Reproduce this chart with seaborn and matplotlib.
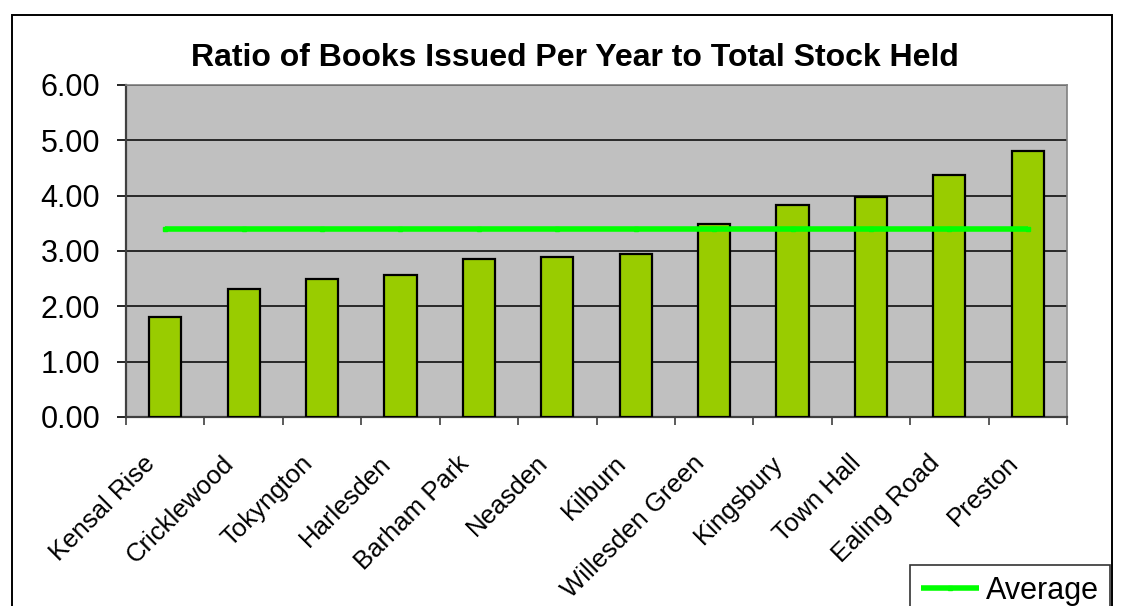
import numpy as np
import pandas as pd
import matplotlib
matplotlib.use("Agg")
import matplotlib.pyplot as plt
from matplotlib.patches import Rectangle
from matplotlib.transforms import ScaledTranslation
import seaborn as sns

# Branch libraries and their issue-to-stock ratios
branches = ["Kensal Rise", "Cricklewood", "Tokyngton", "Harlesden", "Barham Park",
            "Neasden", "Kilburn", "Willesden Green", "Kingsbury", "Town Hall",
            "Ealing Road", "Preston"]
ratios = [1.80, 2.31, 2.49, 2.56, 2.86, 2.89, 2.95, 3.49, 3.83, 3.97, 4.37, 4.80]
average_ratio = 3.40
y_ticks = [0.0, 1.0, 2.0, 3.0, 4.0, 5.0, 6.0]

df = pd.DataFrame({"branch": branches, "ratio": ratios})

sns.set_theme(style="white")
plt.rcParams["font.family"] = ["Liberation Sans", "DejaVu Sans"]
for key in ["text.color", "axes.labelcolor", "xtick.color", "ytick.color"]:
    plt.rcParams[key] = "black"

W, H = 1124, 606
fig = plt.figure(figsize=(W / 100, H / 100), dpi=100)
ax = fig.add_axes([126 / W, 1 - 417 / H, (1067 - 126) / W, (417 - 85) / H])
ax.set_facecolor("#C0C0C0")

sns.barplot(data=df, x="branch", y="ratio", color="#99CC00", width=0.41,
            edgecolor="black", linewidth=1.6, saturation=1, ax=ax, zorder=3)

# Average line across the categories
xs = np.arange(len(branches))
ax.plot(xs, [average_ratio] * len(branches), color="#00FF00", linewidth=4,
        marker="s", markersize=3, solid_capstyle="butt", zorder=4, label="Average")

ax.set_xlim(-0.5, len(branches) - 0.5)
ax.set_ylim(0, 6)
ax.set_yticks(y_ticks)
ax.set_yticklabels([f"{v:.2f}" for v in y_ticks], fontsize=22)
ax.yaxis.grid(True, color="black", linewidth=1.1, zorder=0)
ax.set_axisbelow(True)
ax.set_xlabel("")
ax.set_ylabel("")

# Category boundary ticks on x, outward ticks on y
ax.set_xticks(np.arange(-0.5, len(branches), 1.0))
ax.set_xticklabels([])
ax.tick_params(axis="x", direction="out", length=6, width=1.2,
               color="#404040", bottom=True)
ax.tick_params(axis="y", direction="out", length=6.5, width=1.2, color="black",
               pad=12, left=True)

# Slanted category names, ending just left of each bar's centre
label_tf = ax.get_xaxis_transform() + ScaledTranslation(-22 / 100, -34 / 100,
                                                        fig.dpi_scale_trans)
for i, name in enumerate(branches):
    ax.text(xs[i], 0, name, transform=label_tf, rotation=45, ha="right", va="top",
            rotation_mode="anchor", fontsize=18.5, color="black", clip_on=False)

for side in ["top", "right"]:
    ax.spines[side].set_color("#808080")
    ax.spines[side].set_linewidth(1.2)
ax.spines["left"].set_color("#404040")
ax.spines["left"].set_linewidth(1.6)
ax.spines["bottom"].set_color("#404040")
ax.spines["bottom"].set_linewidth(1.6)

fig.text(575 / W, 1 - 66 / H, "Ratio of Books Issued Per Year to Total Stock Held",
         ha="center", va="baseline", fontsize=23, fontweight="bold", color="black")

leg = fig.legend(loc="upper left", bbox_to_anchor=(910 / W, 1 - 565 / H),
                 fontsize=22, frameon=True, fancybox=False, handlelength=1.9,
                 handletextpad=0.25, borderpad=0.35, borderaxespad=0)
leg.get_frame().set_edgecolor("black")
leg.get_frame().set_linewidth(1.2)

# Outer chart frame
fig.add_artist(Rectangle((12 / W, -0.1), (1112 - 12) / W, 1.1 - 15 / H,
                         transform=fig.transFigure, fill=False,
                         edgecolor="black", linewidth=1.4))

fig.savefig("out.png", dpi=100)
